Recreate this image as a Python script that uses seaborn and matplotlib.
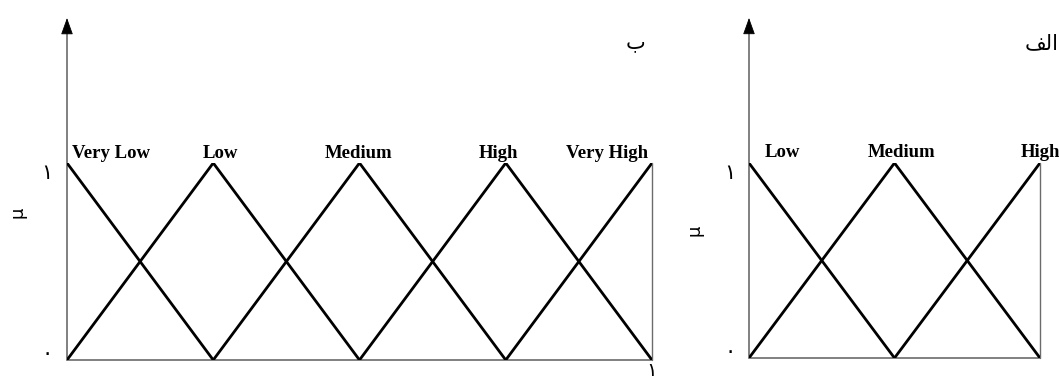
import numpy as np
import pandas as pd
import matplotlib
matplotlib.use("Agg")
import matplotlib.pyplot as plt
import seaborn as sns

# ---- data ----
left_labels = ["Very Low", "Low", "Medium", "High", "Very High"]
left_peaks = [0.0, 0.25, 0.5, 0.75, 1.0]
left_half_width = 0.25

right_labels = ["Low", "Medium", "High"]
right_peaks = [0.0, 0.5, 1.0]
right_half_width = 0.5

panel_titles = ["\u0628", "\ufed2\ufedf\u0627"]  # ب , الف
y_tick_labels = ["\u06f0", "\u06f1"]  # ۰ , ۱
x_end_label = "\u06f1"
y_axis_label = "\u03bc"


def triangles(labels, peaks, hw):
    rows = []
    for lab, c in zip(labels, peaks):
        xs = [c - hw, c, c + hw]
        ys = [0.0, 1.0, 0.0]
        for x, y in zip(xs, ys):
            if 0.0 <= x <= 1.0:
                rows.append({"x": x, "mu": y, "set": lab})
    return pd.DataFrame(rows)


sns.set_theme(style="white")
plt.rcParams["font.family"] = ["DejaVu Sans"]

fig = plt.figure(figsize=(10.59, 3.8), dpi=100)
axL = fig.add_axes([67 / 1059, 20 / 380, 585 / 1059, 197 / 380])
axR = fig.add_axes([749 / 1059, 22 / 380, 291 / 1059, 195 / 380])

gray = "#6b6b6b"
label_font = dict(family="Liberation Serif", fontweight="bold", fontsize=13.5)


def draw_panel(ax, labels, peaks, hw, label_pos, label_ha, label_y, arrow_top,
               title, title_xy, title_ha, tick_x, mu_xy, end_label):
    df = triangles(labels, peaks, hw)
    sns.lineplot(data=df, x="x", y="mu", units="set", estimator=None,
                 sort=False, color="black", lw=2.0, ax=ax, legend=False)
    ax.set_xlim(0, 1)
    ax.set_ylim(0, 1)
    ax.axis("off")
    # axes lines
    ax.plot([0, 1], [0, 0], color=gray, lw=1.2, clip_on=False, zorder=1)
    ax.plot([1, 1], [0, 1], color=gray, lw=1.0, clip_on=False, zorder=1)
    ax.plot([0, 0], [0, arrow_top - 0.03], color=gray, lw=1.2,
            clip_on=False, zorder=1)
    ax.annotate("", xy=(0, arrow_top), xytext=(0, arrow_top - 0.06),
                xycoords="data",
                arrowprops=dict(arrowstyle="-|>,head_length=0.75,head_width=0.27",
                                color="black", lw=0.6,
                                mutation_scale=14, fc="black", ec="black",
                                shrinkA=0, shrinkB=0),
                annotation_clip=False)
    for lab, xp, ha in zip(labels, label_pos, label_ha):
        ax.text(xp, label_y, lab, ha=ha, va="baseline", color="black",
                clip_on=False, **label_font)
    ax.text(title_xy[0], title_xy[1], title, ha=title_ha, va="center",
            fontsize=15, color="black", clip_on=False)
    ax.text(tick_x, 0.95, y_tick_labels[1], ha="center", va="center",
            fontsize=15, color="black", clip_on=False)
    ax.text(tick_x, 0.03, y_tick_labels[0], ha="center", va="center",
            fontsize=15, color="black", clip_on=False)
    ax.text(mu_xy[0], mu_xy[1], y_axis_label, ha="center", va="center",
            rotation=90, fontsize=13, color="black", clip_on=False)
    if end_label:
        ax.text(1.0, -0.055, end_label, ha="center", va="center",
                fontsize=14, color="black", clip_on=False)


draw_panel(axL, left_labels, left_peaks, left_half_width,
           [0.0085, 0.262, 0.499, 0.737, 0.993],
           ["left", "center", "center", "center", "right"],
           1.025, 1.736, panel_titles[0], (0.971, 1.614), "center",
           -0.034, (-0.085, 0.75), x_end_label)

draw_panel(axR, right_labels, right_peaks, right_half_width,
           [0.116, 0.523, 0.934],
           ["center", "center", "left"],
           1.032, 1.744, panel_titles[1], (1.0635, 1.615), "right",
           -0.065, (-0.186, 0.656), None)

fig.savefig("out.png", dpi=100, facecolor="white")
